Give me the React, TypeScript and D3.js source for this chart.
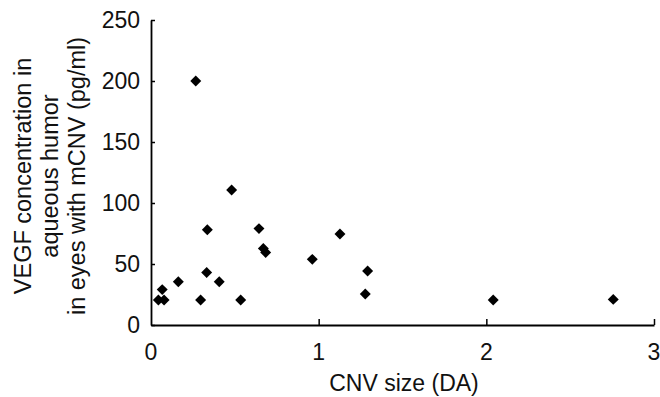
import React, { useEffect, useRef } from 'react';
import * as d3 from 'd3';

// CNV size (DA) vs VEGF concentration (pg/ml)
const cnvSize = [0.267, 0.044, 0.078, 0.067, 0.163, 0.296, 0.336, 0.332, 0.407, 0.481, 0.535, 0.644, 0.67, 0.684, 0.962, 1.127, 1.292, 1.278, 2.041, 2.757];
const vegf = [200, 20.5, 20.5, 29, 35.5, 20.5, 78, 43, 35.5, 110.6, 20.5, 79, 62.8, 59.5, 53.8, 74.6, 44.3, 25.4, 20.5, 21];
const xTicks = [0, 1, 2, 3];
const yTicks = [0, 50, 100, 150, 200, 250];
const yLabelLines = ['VEGF concentration in', 'aqueous humor', 'in eyes with mCNV (pg/ml)'];
const xLabel = 'CNV size (DA)';

const W = 660;
const H = 397;

export default function App() {
  const svgRef = useRef<SVGSVGElement>(null);

  useEffect(() => {
    const svg = d3.select(svgRef.current);
    svg.selectAll('*').remove();
    const font = 'Liberation Sans, Arial, sans-serif';

    const x = d3.scaleLinear().domain([0, 3]).range([151, 654]);
    const y = d3.scaleLinear().domain([0, 250]).range([325, 20]);

    const g = svg.append('g');

    // y axis (ticks point inward)
    const yAxis = g.append('g')
      .attr('transform', `translate(${x(0)},0)`)
      .call(d3.axisRight(y).tickValues(yTicks).tickSize(4).tickSizeOuter(0).tickFormat(() => ''));
    yAxis.select('.domain').attr('stroke', '#000').attr('stroke-width', 1.8);
    yAxis.selectAll('line').attr('stroke', '#000').attr('stroke-width', 1.5);

    // x axis (ticks point upward)
    const xAxis = g.append('g')
      .attr('transform', `translate(0,${y(0)})`)
      .call(d3.axisTop(x).tickValues(xTicks.slice(1)).tickSize(6).tickSizeOuter(0).tickFormat(() => ''));
    xAxis.select('.domain').attr('stroke', '#000').attr('stroke-width', 1.8);
    xAxis.selectAll('line').attr('stroke', '#000').attr('stroke-width', 1.5);

    // tick labels
    g.selectAll('.ylab')
      .data(yTicks)
      .enter()
      .append('text')
      .attr('x', 140)
      .attr('y', d => y(d) + 8)
      .attr('text-anchor', 'end')
      .attr('font-family', font)
      .attr('font-size', 23)
      .attr('fill', '#111')
      .text(d => d);

    g.selectAll('.xlab')
      .data(xTicks)
      .enter()
      .append('text')
      .attr('x', d => x(d))
      .attr('y', 360)
      .attr('text-anchor', 'middle')
      .attr('font-family', font)
      .attr('font-size', 23)
      .attr('fill', '#111')
      .text(d => d);

    // axis titles
    g.append('text')
      .attr('x', 404)
      .attr('y', 391)
      .attr('text-anchor', 'middle')
      .attr('font-family', font)
      .attr('font-size', 23)
      .attr('fill', '#111')
      .text(xLabel);

    const yTitle = g.append('g').attr('transform', 'translate(0,176) rotate(-90)');
    yLabelLines.forEach((line, i) => {
      yTitle.append('text')
        .attr('x', 0)
        .attr('y', 31 + i * 27)
        .attr('text-anchor', 'middle')
        .attr('font-family', font)
        .attr('font-size', 23.5)
        .attr('fill', '#111')
        .text(line);
    });

    // points
    const diamond = d3.symbol().type(d3.symbolSquare).size(60);
    g.selectAll('.pt')
      .data(cnvSize.map((c, i) => ({ c, v: vegf[i] })))
      .enter()
      .append('path')
      .attr('d', diamond)
      .attr('transform', d => `translate(${x(d.c)},${y(d.v)}) rotate(45)`)
      .attr('fill', '#000');
  }, []);

  return (
    <svg
      ref={svgRef}
      width={W}
      height={H}
      style={{ position: 'absolute', left: 0, top: 0, background: '#fff' }}
    />
  );
}
